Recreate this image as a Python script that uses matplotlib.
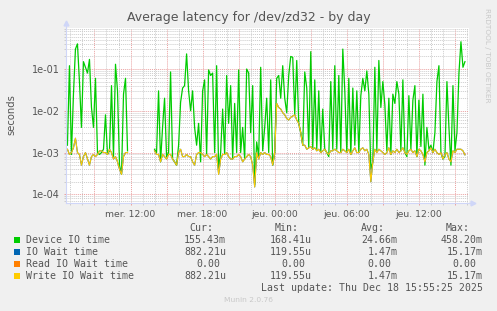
import numpy as np
import matplotlib.pyplot as plt
import matplotlib.ticker as ticker
from matplotlib.patches import Rectangle

W, H = 497, 311

# sample times: hours since Wed 00:00, one value every 10 minutes
start_a = 6.75
start_b = 14.0
step = 1 / 6.0

# Device IO time (ms), before the gap
device_a = [1.5, 120, 0.9, 25, 300, 400, 50, 4, 150, 110, 80, 170, 12, 4, 60, 1.0,
            0.9, 1.0, 1.2, 8, 0.9, 1.1, 40, 0.8, 130, 30, 0.5, 0.3, 25, 60, 1.1]
# IO wait time (ms) == write IO wait, before the gap
wait_a = [1.2, 0.9, 1.0, 1.3, 2.2, 1.0, 0.9, 0.5, 0.8, 1.0, 0.7, 0.5, 0.8, 0.9, 0.8, 0.9,
          1.1, 1.1, 1.0, 1.0, 0.9, 1.2, 1.0, 0.7, 0.8, 0.6, 0.4, 0.3, 0.8, 1.0, 1.0]

# after the gap
device_b = [1.2, 1.0, 30, 0.6, 4, 20, 0.8, 1.0, 85, 0.7, 0.6, 0.5, 1.5, 16, 35, 40, 230, 30,
            10, 30, 4, 1.5, 5,
            0.6, 30, 55, 0.9, 95, 70, 80, 1.0, 120, 0.4, 1.0, 11, 0.9, 70, 5, 40, 0.7, 15,
            1.0, 95, 1.0, 4, 0.7, 100, 80, 3, 40, 0.17, 1.8, 0.8, 110, 1.1, 4, 20,
            1.0, 55, 0.5, 1.0, 60, 70, 20, 120, 20, 9, 70, 200, 190, 8, 160, 5, 3, 1.5, 85,
            35, 1.3, 260, 1.2, 55, 1.2, 30, 1.0, 11, 1.2, 1.0, 0.8, 50, 1.2, 120,
            1.2, 70, 1.0, 300, 30, 1.0, 60, 0.9, 35, 1.5, 30, 1.0, 23, 60, 30, 90, 25, 0.4,
            0.6, 110, 1.1, 160, 12, 50, 14, 1.1, 20, 0.9, 25, 15, 50, 25, 1.1, 55,
            1.0, 0.8, 23, 1.2, 18, 40, 0.8, 18, 1.4, 25, 0.5, 4, 1.2, 1.5, 1.0, 3, 50, 120,
            1.0, 0.7, 0.8, 50, 4, 0.5, 40, 1.1, 3, 80, 450, 110, 150]
wait_b = [1.1, 0.9, 0.9, 0.6, 0.9, 0.8, 0.7, 0.9, 0.9, 0.7, 0.6, 0.5, 1.0, 1.2, 0.8, 0.8, 0.9,
          0.8, 0.8, 0.6, 0.5, 0.9, 1.0,
          1.0, 0.9, 0.8, 0.9, 0.8, 0.7, 0.8, 0.8, 0.9, 0.3, 0.7, 0.9, 0.9, 1.0, 0.8, 0.7, 0.7,
          0.8, 0.8, 0.9, 0.8, 0.6, 0.7, 0.8, 0.9, 0.8, 0.5, 0.15, 1.0, 0.7, 1.0, 0.9, 1.0, 0.9,
          0.9, 0.8, 0.5, 1.0, 15, 12, 11, 9, 8, 6.5, 6, 7, 7.5, 8, 6, 5, 3, 1.5, 1.5, 1.2, 1.3,
          1.4, 1.2, 1.3, 1.1, 1.2, 1.0, 1.1, 1.2, 1.0, 0.9, 1.1, 1.1, 1.2,
          1.1, 1.0, 1.0, 1.2, 1.1, 1.0, 1.2, 0.9, 1.1, 1.3, 1.0, 1.0, 1.2, 1.3, 1.1, 1.2, 0.9,
          0.2, 0.6, 1.2, 1.0, 1.2, 1.1, 1.0, 0.9, 1.0, 1.3, 0.9, 1.1, 1.0, 1.2, 1.0, 1.1, 1.3,
          1.0, 0.9, 1.1, 1.2, 1.0, 1.1, 0.8, 1.2, 1.1, 0.9, 0.6, 1.0, 1.1, 1.3, 1.0, 1.2, 1.0,
          0.9, 1.0, 0.7, 0.9, 1.0, 0.7, 0.6, 1.1, 1.0, 1.2, 1.2, 1.2, 1.1, 0.88]

series_names = ['Device IO time', 'IO Wait time', 'Read IO Wait time', 'Write IO Wait time']
series_colors = ['#00CC00', '#0066B3', '#FF8000', '#FFCC00']
cur_vals = ['155.43m', '882.21u', '0.00', '882.21u']
min_vals = ['168.41u', '119.55u', '0.00', '119.55u']
avg_vals = ['24.66m', '1.47m', '0.00', '1.47m']
max_vals = ['458.20m', '15.17m', '0.00', '15.17m']

hour_labels = {12: 'mer. 12:00', 18: 'mer. 18:00', 24: 'jeu. 00:00',
               30: 'jeu. 06:00', 36: 'jeu. 12:00'}

t_a = start_a + step * np.arange(len(device_a))
t_b = start_b + step * np.arange(len(device_b))
t = np.concatenate([t_a, [t_a[-1] + step], t_b])
device = np.concatenate([device_a, [np.nan], device_b]) / 1000.0
io_wait = np.concatenate([wait_a, [np.nan], wait_b]) / 1000.0
read_wait = np.zeros_like(io_wait)
write_wait = io_wait.copy()


def fx(x):
    return x / W


def fy(y):
    return 1 - y / H


fig = plt.figure(figsize=(W / 100, H / 100), dpi=100, facecolor='#F0F0F0')
ax = fig.add_axes([fx(66), fy(203), (469 - 66) / W, (203 - 27.7) / H])
ax.set_facecolor('white')

ax.plot(t, device, color=series_colors[0], lw=0.9)
ax.plot(t, io_wait, color=series_colors[1], lw=0.8)
ax.plot(t, read_wait, color=series_colors[2], lw=0.8)
ax.plot(t, write_wait, color=series_colors[3], lw=0.8)

ax.set_yscale('log', nonpositive='mask')
ax.set_ylim(6.2e-5, 0.975)
ax.set_xlim(6.63, 40.17)

ax.yaxis.set_major_locator(ticker.LogLocator(base=10, numticks=10))
ax.yaxis.set_minor_locator(ticker.LogLocator(base=10, subs=np.arange(2, 10), numticks=20))
ax.yaxis.set_major_formatter(ticker.FuncFormatter(lambda v, p: '%.0e' % v))
ax.yaxis.set_minor_formatter(ticker.NullFormatter())

ax.xaxis.set_major_locator(ticker.MultipleLocator(3))
ax.xaxis.set_minor_locator(ticker.MultipleLocator(1))
ax.xaxis.set_major_formatter(ticker.FuncFormatter(
    lambda v, p: hour_labels.get(int(round(v)), '')))

ax.grid(which='minor', color='#CCCCCC', lw=0.7, ls=(0, (1, 1)))
ax.grid(which='major', color='#EAA0A0', lw=0.7, ls=(0, (1, 1)))
ax.set_axisbelow(True)

for s in ['top', 'right']:
    ax.spines[s].set_visible(False)
ax.spines['left'].set_color('#CFD6F8')
ax.spines['bottom'].set_color('#CFD6F8')
ax.spines['left'].set_linewidth(0.8)
ax.spines['bottom'].set_linewidth(0.8)

ax.tick_params(which='major', length=1.6, width=0.7, color='#EAA0A0',
               labelsize=7, labelcolor='#555555', pad=3)
ax.tick_params(which='minor', length=1.6, width=0.7, color='#CCCCCC')
ax.tick_params(axis='x', labelsize=6.7, pad=3.5)

# axis arrows
ax.plot([0, 0], [1, 1.025], color='#CFD6F8', lw=0.8, transform=ax.transAxes, clip_on=False)
ax.plot([0], [1.025], marker='^', ms=3.5, color='#CFD6F8', transform=ax.transAxes, clip_on=False)
ax.plot([1, 1.01], [0, 0], color='#CFD6F8', lw=0.8, transform=ax.transAxes, clip_on=False)
ax.plot([1.01], [0], marker='>', ms=3.5, color='#CFD6F8', transform=ax.transAxes, clip_on=False)

fig.text(0.5, fy(18), 'Average latency for /dev/zd32 - by day', ha='center', va='center',
         fontsize=9, color='#555555')
fig.text(fx(11), fy(115), 'seconds', rotation=90, ha='center', va='center',
         fontsize=7.2, color='#555555')
fig.text(fx(487), fy(55), 'RRDTOOL / TOBI OETIKER', rotation=270, ha='center', va='center',
         fontsize=5.3, color='#C8C8C8')

mono = 'DejaVu Sans Mono'
fs = 7.1
cw = 5.95
col_right = [226, 311.7, 397.3, 482.7]
headers = ['Cur:', 'Min:', 'Avg:', 'Max:']
for xr, hd in zip(col_right, headers):
    fig.text(fx(xr - 2 * cw - 1), fy(227.7), hd, ha='right', va='center',
             family=mono, fontsize=fs, color='#555555')

for k, name in enumerate(series_names):
    yc = 239.7 + 12 * k
    fig.patches.append(Rectangle((fx(14), fy(yc + 3)), 6 / W, 6 / H,
                                 transform=fig.transFigure, facecolor=series_colors[k],
                                 edgecolor='none'))
    fig.text(fx(26), fy(yc), name, ha='left', va='center', family=mono,
             fontsize=fs, color='#555555')
    for xr, vals in zip(col_right, [cur_vals, min_vals, avg_vals, max_vals]):
        v = vals[k]
        shift = 0 if v[-1].isalpha() else cw
        fig.text(fx(xr - shift), fy(yc), v, ha='right', va='center', family=mono,
                 fontsize=fs, color='#555555')

fig.text(fx(482.7), fy(287.7), 'Last update: Thu Dec 18 15:55:25 2025', ha='right',
         va='center', family=mono, fontsize=fs, color='#555555')
fig.text(0.5, fy(300), 'Munin 2.0.76', ha='center', va='center', fontsize=5.4,
         color='#C8C8C8')

fig.savefig('out.png', dpi=100, facecolor=fig.get_facecolor())
